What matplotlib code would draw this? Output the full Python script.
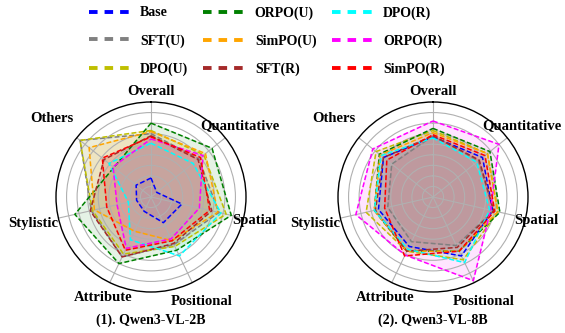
import numpy as np
import matplotlib
matplotlib.use("Agg")
import matplotlib.pyplot as plt
from matplotlib.lines import Line2D

plt.rcParams['font.family'] = ['Liberation Serif', 'DejaVu Serif']
plt.rcParams['font.weight'] = 'bold'

categories = ['Overall', 'Quantitative', 'Spatial', 'Positional',
              'Attribute', 'Stylistic', 'Others']
methods = ['Base', 'SFT(U)', 'DPO(U)', 'ORPO(U)', 'SimPO(U)',
           'SFT(R)', 'DPO(R)', 'ORPO(R)', 'SimPO(R)']
colors = ['blue', 'gray', 'y', 'green', 'orange',
          'brown', 'cyan', 'magenta', 'red']

# scores per category, same order as `categories`
qwen3_vl_2b = {
    'Base':     [18, 7, 30, 27, 15, 14, 18],
    'SFT(U)':   [60, 58, 66, 50, 63, 58, 86],
    'DPO(U)':   [63, 64, 73, 52, 60, 57, 86],
    'ORPO(U)':  [70, 74, 78, 56, 70, 74, 45],
    'SimPO(U)': [62, 66, 65, 46, 36, 55, 75],
    'SFT(R)':   [58, 57, 59, 49, 63, 59, 57],
    'DPO(R)':   [51, 51, 68, 62, 45, 22, 51],
    'ORPO(R)':  [55, 63, 47, 44, 54, 33, 46],
    'SimPO(R)': [57, 60, 57, 46, 56, 43, 59],
}
qwen3_vl_8b = {
    'Base':     [57, 60, 58, 62, 52, 53, 60],
    'SFT(U)':   [58, 55, 59, 51, 47, 44, 50],
    'DPO(U)':   [63, 66, 63, 66, 57, 65, 69],
    'ORPO(U)':  [65, 69, 65, 57, 57, 57, 65],
    'SimPO(U)': [61, 66, 63, 57, 57, 57, 64],
    'SFT(R)':   [58, 56, 59, 53, 57, 56, 60],
    'DPO(R)':   [56, 53, 55, 69, 55, 57, 63],
    'ORPO(R)':  [72, 80, 56, 88, 61, 75, 73],
    'SimPO(R)': [59, 63, 60, 57, 62, 47, 56],
}
titles = ['(1). Qwen3-VL-2B', '(2). Qwen3-VL-8B']
r_max = 90
r_grid = np.arange(10, r_max, 10)

# distance of each category label from the centre, relative to the rim
label_radius = [1.11, 1.20, 1.12, 1.22, 1.17, 1.27, 1.33]

fig = plt.figure(figsize=(5.65, 3.33), dpi=100)

angles = np.linspace(0, 2 * np.pi, len(categories), endpoint=False)
closed = np.concatenate([angles, angles[:1]])

boxes = [[56 / 565, 41 / 333, 190 / 565, 190 / 333],
         [338 / 565, 41 / 333, 190 / 565, 190 / 333]]

for box, data, title in zip(boxes, [qwen3_vl_2b, qwen3_vl_8b], titles):
    ax = fig.add_axes(box, projection='polar')
    ax.set_theta_offset(np.pi / 2)
    ax.set_theta_direction(-1)
    for name, color in zip(methods, colors):
        vals = np.asarray(data[name], dtype=float)
        vals = np.concatenate([vals, vals[:1]])
        ax.plot(closed, vals, color=color, linestyle=(0, (3.2, 1.6)),
                linewidth=1.1)
        ax.fill(closed, vals, color=color, alpha=0.1)
    ax.set_ylim(0, r_max)
    ax.set_yticks(r_grid)
    ax.set_yticklabels([])
    ax.set_xticks(angles)
    ax.set_xticklabels([])
    for ang, lab, rf in zip(angles, categories, label_radius):
        ax.text(ang, r_max * rf, lab, ha='center', va='center',
                fontsize=10.5, fontweight='bold', clip_on=False)
    ax.grid(color='#b0b0b0', linewidth=0.8)
    ax.spines['polar'].set_color('black')
    ax.spines['polar'].set_linewidth(1.0)
    ax.text(0.5, -0.147, title, transform=ax.transAxes, ha='center',
            va='center', fontsize=10, fontweight='bold')

handles = [Line2D([], [], color=c, linestyle=(0, (2.2, 1.8)), linewidth=2.8)
           for c in colors]
fig.legend(handles, methods, loc='center', bbox_to_anchor=(0.472, 0.877),
           ncol=3, frameon=False, fontsize=10, handlelength=2.9,
           labelspacing=1.05, columnspacing=1.1, handletextpad=0.8)

fig.savefig('out.png', dpi=100)
